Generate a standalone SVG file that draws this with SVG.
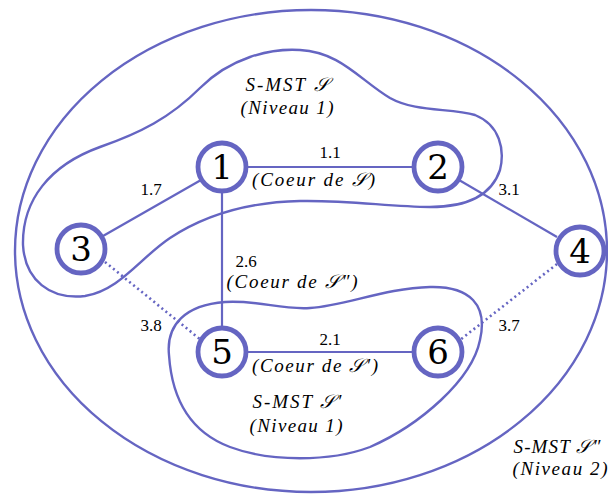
<svg xmlns="http://www.w3.org/2000/svg" width="608" height="494" viewBox="0 0 608 494">
<style>
.c{fill:none;stroke:#6565c2;stroke-width:2.4}
.e{stroke:#6565c2;stroke-width:2.2;fill:none}
.d{stroke:#6565c2;stroke-width:2.6;fill:none;stroke-dasharray:2 3.2}
.n{fill:#fff;stroke:#6565c2;stroke-width:4.8}
.nt{font-family:'DejaVu Serif',serif;font-size:34px;text-anchor:middle;fill:#000}
.l{font-family:'Liberation Serif',serif;font-size:17px;text-anchor:middle;fill:#000}
.i{font-family:'Liberation Serif',serif;font-size:19px;font-style:italic;text-anchor:middle;fill:#000}
</style>
<rect width="608" height="494" fill="#fff"/>
<g id="clusters">
<ellipse class="c" cx="311" cy="251" rx="296" ry="241"/>
<path class="c" d="M 23,245 C 22,200 50,165 100,147 C 140,133 170,118 200,88 C 230,58 270,48 300,50 C 340,52 360,80 390,98 C 415,112 450,108 475,115 C 500,125 505,150 500,170 C 490,200 460,207 430,207 C 390,207 350,200 300,201 C 250,202 205,215 170,238 C 140,258 120,290 85,296 C 50,300 25,280 23,245 Z"/>
<path class="c" d="M 169,355 C 166,325 185,305 225,302 C 260,300 280,310 310,308 C 345,306 385,288 430,287 C 470,286 488,305 480,340 C 472,380 420,425 370,447 C 330,462 270,462 230,447 C 190,432 172,400 169,355 Z"/>
</g>
<g id="connectors">
<line class="e" x1="246" y1="167" x2="414" y2="167"/>
<line class="e" x1="201" y1="180" x2="103" y2="236"/>
<line class="e" x1="459" y1="180" x2="557" y2="237"/>
<line class="e" x1="222" y1="191" x2="222" y2="329"/>
<line class="e" x1="246" y1="352" x2="414" y2="352"/>
<line class="d" x1="105" y1="262" x2="201" y2="340"/>
<line class="d" x1="557" y1="264" x2="460" y2="340"/>
</g>
<g id="labels">
<text class="l" x="330" y="158">1.1</text>
<text class="i" x="313.5" y="186" textLength="123" lengthAdjust="spacing">(Coeur de  𝒮)</text>
<text class="l" x="151" y="195">1.7</text>
<text class="l" x="509" y="195">3.1</text>
<text class="l" x="246" y="267">2.6</text>
<text class="i" x="292" y="288" textLength="131" lengthAdjust="spacing">(Coeur de  𝒮″)</text>
<text class="l" x="151" y="331">3.8</text>
<text class="l" x="509" y="331">3.7</text>
<text class="l" x="330" y="345">2.1</text>
<text class="i" x="315" y="372" textLength="126" lengthAdjust="spacing">(Coeur de  𝒮′)</text>
<text class="i" x="287" y="91" textLength="83" lengthAdjust="spacing">S-MST 𝒮</text>
<text class="i" x="287" y="114" textLength="93" lengthAdjust="spacing">(Niveau 1)</text>
<text class="i" x="297" y="408" textLength="89" lengthAdjust="spacing">S-MST 𝒮′</text>
<text class="i" x="296" y="432" textLength="93" lengthAdjust="spacing">(Niveau 1)</text>
<text class="i" x="557" y="453" textLength="87" lengthAdjust="spacing">S-MST 𝒮″</text>
<text class="i" x="560" y="475" textLength="95" lengthAdjust="spacing">(Niveau 2)</text>
</g>
<g id="node1"><circle class="n" cx="222" cy="167" r="24"/><text class="nt" x="222" y="179">1</text></g>
<g id="node2"><circle class="n" cx="438" cy="167" r="24"/><text class="nt" x="438" y="179">2</text></g>
<g id="node3"><circle class="n" cx="81" cy="249" r="24"/><text class="nt" x="81" y="261">3</text></g>
<g id="node4"><circle class="n" cx="580" cy="251" r="24"/><text class="nt" x="580" y="263">4</text></g>
<g id="node5"><circle class="n" cx="222" cy="352" r="24"/><text class="nt" x="222" y="364">5</text></g>
<g id="node6"><circle class="n" cx="438" cy="352" r="24"/><text class="nt" x="438" y="364">6</text></g>
</svg>
